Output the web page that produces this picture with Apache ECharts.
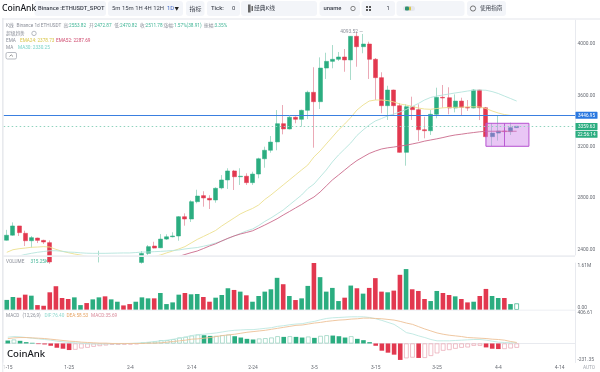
<!DOCTYPE html>
<html><head><meta charset="utf-8">
<style>html,body{margin:0;padding:0;background:#fff}#c{width:600px;height:372px}</style>
<script src="https://cdn.jsdelivr.net/npm/echarts@6/dist/echarts.min.js"></script>
</head><body><div id="c"></div>
<script>
const categories=['1-15','1-16','1-17','1-18','1-19','1-20','1-21','1-22','1-23','1-24','1-25','1-26','1-27','1-28','1-29','1-30','1-31',
'2-1','2-2','2-3','2-4','2-5','2-6','2-7','2-8','2-9','2-10','2-11','2-12','2-13','2-14','2-15','2-16','2-17','2-18','2-19','2-20','2-21','2-22','2-23','2-24','2-25','2-26','2-27','2-28','2-29',
'3-1','3-2','3-3','3-4','3-5','3-6','3-7','3-8','3-9','3-10','3-11','3-12','3-13','3-14','3-15','3-16','3-17','3-18','3-19','3-20','3-21','3-22','3-23','3-24','3-25','3-26','3-27','3-28','3-29','3-30','3-31',
'4-1','4-2','4-3','4-4','4-5','4-6','4-7','4-8','4-9','4-10','4-11','4-12','4-13','4-14','4-15','4-16'];
// open, close, low, high
const candles=[[2472.87,2511.78,2470.82,2553.82],[2512,2584,2508,2612],[2584,2532,2506,2584],[2527,2469,2428,2547],[2469,2493,2415,2506],[2490,2472,2451,2493],[2472,2459,2444,2477],[2454,2304,2290,2471],
[2304,2243,2170,2330],[2243,2236,2195,2260],[2236,2217,2170,2245],[2217,2268,2200,2280],[2267,2268,2240,2285],[2268,2258,2230,2310],[2258,2318,2240,2330],[2318,2344,2300,2391],[2344,2283,2270,2350],[2283,2304,2255,2325],[2304,2310,2270,2325],[2310,2297,2280,2320],[2297,2290,2260,2310],[2290,2300,2265,2335],
[2300,2370,2290,2389],[2371,2423,2358,2436],[2428,2412,2410,2461],[2414,2482,2412,2521],[2482,2500,2475,2519],[2500,2506,2495,2535],[2506,2656,2469,2661],[2656,2638,2586,2682],[2638,2773,2615,2784],[2773,2817,2760,2866],[2820,2802,2734,2854],[2799,2786,2716,2823],[2786,2877,2765,2885],[2880,2942,2869,2980],[2942,3012,2872,3033],[3012,2967,2864,3020],[2967,2971,2903,3033],[2971,2921,2903,2994],[2921,2988,2903,3006],[2988,3107,2955,3115],[3107,3173,3037,3201],[3173,3237,3154,3284],[3238,3380,3173,3486],[3380,3339,3297,3525],[3339,3430,3335,3442],[3430,3414,3383,3437],[3414,3484,3357,3489],[3484,3624,3416,3637],[3624,3551,3193,3819],[3551,3813,3494,3896],[3813,3865,3728,3932],[3865,3881,3811,3992],[3881,3899,3868,3938],[3899,3876,3784,3961],[3876,4060,3720,4062],[4060,3979,3823,4093.52],[3979,4000,3928,4078],[4000,3881,3728,4018],[3881,3738,3564,3891],[3738,3520,3461,3780],[3520,3642,3409,3675],[3642,3520,3442,3645],[3520,3157,3155,3540],[3157,3512,3053,3531],[3512,3489,3409,3590],[3489,3333,3245,3531],[3333,3325,3266,3434],[3325,3453,3292,3486],[3453,3585,3422,3660],[3585,3580,3504,3681],[3582,3502,3453,3663],[3502,3556,3468,3608],[3556,3507,3447,3582],[3507,3502,3479,3564],[3502,3642,3499,3648],[3642,3504,3408,3645],[3504,3279,3275,3510],[3279,3307,3206,3385],[3307,3323,3248,3442],[3323,3318,3290,3340],[3318,3349,3292,3388],[3349,3359.63,3347,3362]];
const ema24=[2378.73,2399,2407,2412,2418,2420,2423,2420,2402,2387,2376,2366,2358,2349,2338,2331,2327,2323,2321,2319,2319,2323,2327,2335,2346,2358,2374,2389,2405,2423,2451,2479,2502,2525,2549,2584,2615,2646,2677,2700,2720,2747,2790,2825,2864,2903,2942,2981,3020,3058,3121,3167,3222,3276,3331,3377,3428,3486,3525,3556,3564,3564,3560,3549,3533,3525,3514,3502,3494,3492,3498,3503,3507,3507,3508,3511,3511,3510,3498,3479,3463,3451,3444];
const ma30=[2330.25,2335,2350,2362,2371,2379,2385,2391,2391,2387,2381,2379,2375,2372,2371,2371,2371,2372,2373,2374,2374,2377,2381,2381,2384,2386,2389,2393,2397,2405,2411,2416,2426,2437,2451,2467,2486,2506,2525,2545,2560,2587,2619,2646,2677,2708,2747,2786,2825,2875,2910,2965,3019,3082,3136,3183,3230,3288,3331,3370,3401,3420,3440,3455,3471,3490,3514,3537,3564,3584,3595,3603,3611,3619,3626,3634,3640,3642,3640,3630,3615,3595,3576,3556];
const ema52=[2287.69,2290,2293,2295,2296,2297,2297,2298,2297,2296,2294,2293,2292,2292,2291,2291,2292,2292,2292,2292,2292,2292,2294,2298,2305,2312,2322,2333,2346,2362,2376,2389,2408,2428,2445,2467,2488,2506,2521,2533,2546,2568,2591,2615,2640,2669,2696,2724,2751,2782,2809,2848,2895,2942,2980,3019,3058,3093,3121,3148,3167,3183,3192,3198,3206,3212,3222,3232,3244,3253,3262,3272,3283,3292,3298,3305,3311,3317,3321,3321,3321,3321,3321,3321];
const volumeK=[340,440,417,521,486,162,139,602,811,405,371,428,162,232,359,428,463,359,278,151,197,278,428,394,394,579,197,255,521,579,533,544,440,278,417,510,741,683,625,498,278,475,625,706,1100,880,475,336,394,822,1610,1123,625,753,301,417,834,741,556,753,1089,625,602,660,1204,1401,706,648,371,301,648,579,510,463,371,255,278,475,718,475,405,405,197,220];
const macdHist=[35.69,48,32,16,8,-8,-12,-28,-52,-64,-80,-76,-60,-52,-40,-32,-24,-16,-16,-14,-12,-8,8,16,24,40,40,52,72,80,96,108,100,92,92,100,108,88,72,56,48,60,64,72,88,80,88,80,72,84,68,92,100,96,88,72,88,56,40,16,-28,-88,-112,-136,-200,-180,-172,-176,-176,-152,-120,-88,-80,-64,-52,-48,-28,-28,-48,-64,-68,-68,-60,-52];
const dif=[76.4,84,80,72,64,56,48,40,28,20,12,8,4,-4,-6,-6,-6,-4,-4,-2,0,4,8,16,24,32,40,52,64,80,96,108,112,120,128,140,152,160,164,168,168,176,184,192,208,216,228,236,240,256,268,288,304,312,316,320,324,324,324,316,300,280,256,232,184,132,116,92,72,48,32,32,32,36,40,44,48,48,40,28,16,12,8,8];
const dea=[58.53,68,72,72,68,64,60,52,44,36,28,24,16,12,8,4,4,0,0,0,0,0,0,4,4,8,16,24,32,40,52,56,64,72,84,96,104,112,124,136,144,152,160,172,184,196,208,220,224,236,248,256,268,276,284,288,296,300,308,308,304,300,292,284,268,248,232,204,176,152,128,112,100,92,84,72,68,64,60,52,48,40,24,12];
const priceTicks=[2400,2800,3200,3600,4000];
const volumeTicks=[0,1610];
const macdTicks=[-231.35,406.61];
const lastPrice=3359.63, bluePrice=3446.95, highPrice=4093.52;
const zoneLow=3204, zoneHigh=3383, zoneStart='4-2', zoneMid='4-5', zoneEnd='4-9';

const UP='#2bad80',DOWN='#e2384f',UPW='#a9dccb',DOWNW='#eba9b6',ZONEUP='#3f87a0';
const FONT='Roboto,"Noto Sans CJK SC",sans-serif';
const AX='#e8eaef';
const chart=echarts.init(document.getElementById('c'),null,{renderer:'canvas'});

function txt(x,y,t,fill,size,extra){const e=extra||{};return {type:'text',z:110,silent:true,x:x,y:y,style:{text:t,fill:fill,font:(e.w||'400')+' '+size+'px '+(e.f||FONT),textVerticalAlign:'middle',textAlign:e.a||'left'}};}
function box(x,y,w,h,fill,r){return {type:'rect',z:100,silent:true,shape:{x:x,y:y,width:w,height:h,r:r||0},style:{fill:fill}};}
const BOX='#f3f5f9',INK='#3a3f4a',GR='#8b8f99',VAL='#3fb596',L=4.7,NOTO='"Noto Sans",sans-serif';
const g=[
 box(0,0,600,18,'#fff'),
 box(3,18.2,597,1.6,'#eceef2'),
 box(2.2,18,1.3,354,'#e3e5ea'),
 box(0,362.5,2.2,10,'#fff'),box(3.5,362.5,1.2,10,'#fff'),
 box(34.5,1,71.5,15,BOX,3),box(108,1,75,15,BOX,3),box(186,1,18.5,15,BOX,3),box(207,1,33,15,BOX,3),box(241,1,76,15,BOX,3),
 box(319.5,1,40.5,15,BOX,3),box(361.5,1,33.5,15,BOX,3),box(396.5,1,68,15,BOX,3),box(467,1,39,15,BOX,3),
 txt(2,8.5,'CoinAnk','#15171c',8.6,{w:'500',f:NOTO}),
 txt(38,9,'Binance :ETHUSDT_SPOT',INK,5.8,{w:'500'}),
 txt(112,9,'5m 15m 1H 4H 12H',INK,5.9),txt(167,9,'1D','#3c62c4',5.9),txt(174.5,8.5,'▼','#222',4.5),
 txt(189.5,9,'指标',INK,6),
 txt(211,9,'Tick:',INK,5.9,{w:'500'}),txt(232,9,'0',INK,5.9),
 box(248,4.5,2.6,8,'#666'),box(251.5,6,1.5,5,'#666'),
 txt(254,9,'经典K线',INK,5.8),
 txt(323.5,9,'uname',INK,5.9,{w:'500'}),
 {type:'circle',z:110,silent:true,shape:{cx:353,cy:8.5,r:2.2},style:{fill:'none',stroke:'#666',lineWidth:.8}},
 box(366,6,2,2,'#555'),box(369,6,2,2,'#555'),box(366,9,2,2,'#555'),box(369,9,2,2,'#555'),
 txt(386.5,9,'1',INK,5.9),
 box(403,6,12,5,'#e4e6ee',2.5),box(405,6.5,4,4,'#2f8f6e',1),box(409,6.5,2,4,'#d8c64a',1),
 {type:'circle',z:110,silent:true,shape:{cx:473,cy:8.5,r:2.6},style:{fill:'none',stroke:'#555',lineWidth:.8}},
 txt(480,9,'使用指南',INK,5.6),

 txt(6,26,'K线',GR,L),txt(16.5,26,'Binance 1d ETHUSDT',GR,L),
 txt(63.5,26,'高:',GR,L),txt(69,26,'2553.82',VAL,L),
 txt(89,26,'开:',GR,L),txt(94.5,26,'2472.87',VAL,L),
 txt(114.3,26,'低:',GR,L),txt(120,26,'2470.82',VAL,L),
 txt(140,26,'收:',GR,L),txt(145.5,26,'2511.78',VAL,L),
 txt(163.5,26,'涨幅:',GR,L),txt(174,26,'1.57%(38.91)',VAL,L),
 txt(204,26,'振幅:',GR,L),txt(214.5,26,'3.35%',VAL,L),
 txt(6,33.4,'超级趋势',GR,L),
 {type:'circle',z:110,silent:true,shape:{cx:34,cy:33.4,r:2.2},style:{fill:'none',stroke:'#9a9ea8',lineWidth:.7}},
 txt(6,40.7,'EMA',GR,L),txt(20,40.7,'EMA24: 2378.73','#d9c64a',L),txt(56,40.7,'EMA52: 2287.69','#cf4a6e',L),
 txt(6,48,'MA',GR,L),txt(18,48,'MA30: 2330.25','#77d3c8',L),
 {type:'rect',z:110,silent:true,shape:{x:6,y:52.5,width:10.5,height:6.5,r:1.5},style:{fill:'#fff',stroke:'#9a9ea8',lineWidth:.7}},
 {type:'polyline',z:111,silent:true,shape:{points:[[9.5,56.5],[11.2,54.8],[13,56.5]]},style:{fill:'none',stroke:'#666',lineWidth:.7}},

 box(3,255.3,572,1.6,'#eceef2'),box(3,309.7,572,.8,'#e8eaef'),
 txt(6,261.7,'VOLUME',GR,L),txt(30.5,261.7,'315.25K',VAL,L),
 txt(6,316,'MACD',GR,L),txt(22.5,316,'(12,26,9)',GR,L),txt(44.5,316,'DIF:76.40','#8fd8ce',L),txt(66.5,316,'DEA:58.53','#e6a465',L),txt(91,316,'MACD:35.69','#d98a9a',L),
 txt(7,354.5,'CoinAnk','#15171c',9.6,{w:'500',f:NOTO}),
 txt(583,367.8,'AUTO','#a2a6ae',L),
 box(575.5,111.8,22,7,'#2a78e0',.6),txt(586.5,115.5,'3446.95','#fff',L,{a:'center'}),
 box(575.5,123,22,7,UP,.6),txt(586.5,126.7,'3359.63','#fff',L,{a:'center'}),
 box(575.5,130.8,22,7,UP,.6),txt(586.5,134.5,'22:56:14','#fff',L,{a:'center'})
];

const vol=volumeK.map((v,i)=>{
 const up=candles[i][1]>=candles[i][0];
 const last=i===volumeK.length-1;
 return {value:v,itemStyle:last?{color:'#fff',borderColor:UP,borderWidth:.7}:{color:up?UP:DOWN}};
});
const hist=macdHist.map((v,i)=>{
 const hollow=i>0&&v>=macdHist[i-1];
 const c=v>=0?UP:DOWN;
 const pale=v>=0?'#8fd0ba':'#e8a3b0';
 return {value:v,itemStyle:hollow?{color:'#fff',borderColor:pale,borderWidth:.7}:{color:c}};
});
const bodies=candles.map((c,i)=>{
 const item={value:[c[0],c[1],Math.min(c[0],c[1]),Math.max(c[0],c[1])]};
 if(categories.indexOf(zoneStart)<i&&c[1]>=c[0]) item.itemStyle={color:ZONEUP,borderColor:ZONEUP};
 return item;
});
const axisY=(grid,ticks,fmt,min,max)=>({type:'value',gridIndex:grid,position:'right',min:min,max:max,scale:true,
 axisLine:{show:true,lineStyle:{color:AX,width:1}},axisTick:{show:false},splitLine:{show:false},
 axisLabel:{customValues:ticks,formatter:fmt,color:'#666a72',fontSize:4.9,fontFamily:FONT,margin:2.5,showMinLabel:true,showMaxLabel:true,
  verticalAlignMinLabel:grid?'bottom':'middle',verticalAlignMaxLabel:grid?'top':'middle'}});
const axisX=(grid,show)=>({type:'category',gridIndex:grid,data:categories,boundaryGap:true,axisTick:{show:false},splitLine:{show:false},
 axisLine:{show:show,lineStyle:{color:AX}},
 axisLabel:{show:show,interval:9,color:'#666a72',fontSize:4.9,fontFamily:FONT,margin:3,hideOverlap:false}});

const line=(name,data,color,xi,yi)=>({name:name,type:'line',xAxisIndex:xi,yAxisIndex:yi,data:data,showSymbol:false,symbol:'none',smooth:false,z:4,lineStyle:{color:color,width:.9},clip:true});
const level=(name,price,lineColor,lineType)=>({name:name,type:'line',xAxisIndex:0,yAxisIndex:0,data:[],z:8,color:lineColor,
 markLine:{silent:true,symbol:'none',z:8,animation:false,
  lineStyle:{color:lineColor,width:1,type:lineType,opacity:1},
  label:{show:false},
  data:[{yAxis:price}]}});

chart.setOption({
 animation:false,backgroundColor:'#fff',
 grid:[{left:3.7,right:25,top:20,height:235},{left:3.7,right:25,top:263,height:46.8},{left:3.7,right:25,top:310,height:52.5}],
 xAxis:[axisX(0,false),axisX(1,false),axisX(2,true)],
 yAxis:[
  axisY(0,priceTicks,v=>v.toFixed(2),2358,4186.8),
  axisY(1,volumeTicks,v=>v===0?'0.00':(v/1000).toFixed(2)+'M',0,1610),
  axisY(2,macdTicks,v=>v.toFixed(2),-231.35,406.61)
 ],
 graphic:{elements:g},
 series:[
  {name:'wick',type:'candlestick',xAxisIndex:0,yAxisIndex:0,data:candles,barWidth:1,z:2,clip:true,
   itemStyle:{color:UPW,color0:DOWNW,borderColor:UPW,borderColor0:DOWNW,borderWidth:1}},
  {name:'body',type:'candlestick',xAxisIndex:0,yAxisIndex:0,barWidth:4.6,z:3,clip:true,
   data:bodies,
   itemStyle:{color:UP,color0:DOWN,borderColor:UP,borderColor0:DOWN,borderWidth:.5},
   markPoint:{symbol:'circle',symbolSize:0.01,data:[{coord:['3-13',highPrice]}],
    label:{position:'left',distance:0,formatter:highPrice.toFixed(2)+' —',color:'#8b8f99',fontSize:4.9,fontFamily:FONT}},
   markArea:{silent:true,z:6,itemStyle:{color:'rgba(203,120,232,0.42)',borderColor:'#b651cf',borderWidth:1},
    data:[[{xAxis:zoneStart,yAxis:zoneHigh},{xAxis:zoneEnd,yAxis:zoneLow}]]},
   markLine:{silent:true,symbol:'none',z:7,animation:false,
    data:[[{xAxis:zoneMid,yAxis:zoneHigh,lineStyle:{color:'#b651cf',width:.9,type:'solid'},label:{show:false}},{xAxis:zoneMid,yAxis:zoneLow}]]}},
  line('EMA24',ema24,'#ece08f',0,0),line('MA30',ma30,'#b4e4dc',0,0),line('EMA52',ema52,'#cb6a8b',0,0),
  level('blue',bluePrice,'#3a7fe0','solid'),
  level('last',lastPrice,'#8fd3bd',[1.5,2.5]),
  {name:'VOLUME',type:'bar',xAxisIndex:1,yAxisIndex:1,data:vol,barWidth:4.6},
  {name:'MACD',type:'bar',xAxisIndex:2,yAxisIndex:2,data:hist,barWidth:4.6,z:2},
  line('DIF',dif,'#bde8e1',2,2),
  line('DEA',dea,'#edc196',2,2)
 ]
});
</script></body></html>
